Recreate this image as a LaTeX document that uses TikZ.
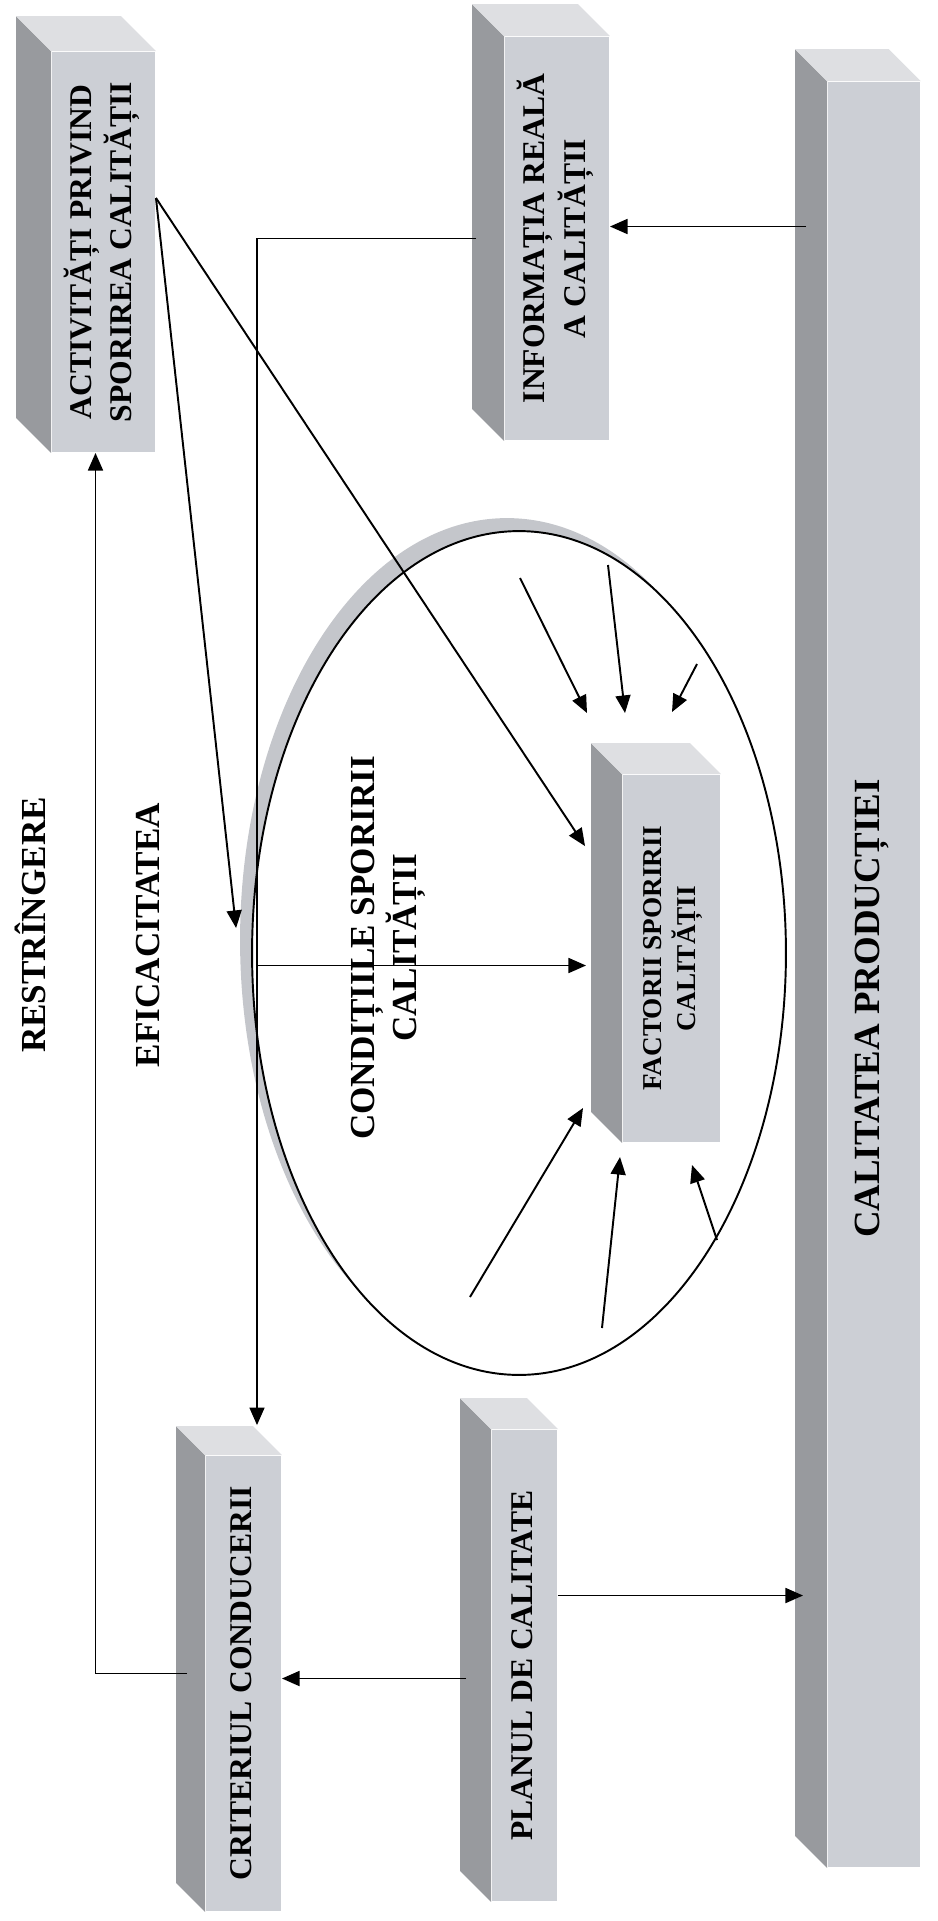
\documentclass[tikz,border=0pt]{standalone}
\usepackage{fontspec}
\setmainfont{Liberation Serif}
\usetikzlibrary{arrows.meta,shapes.geometric,shadows,calc}

\definecolor{boxfront}{RGB}{204,207,213}
\definecolor{boxside}{RGB}{152,154,158}
\definecolor{boxtop}{RGB}{222,223,226}
\definecolor{rimgray}{RGB}{196,198,203}

\newcommand{\boxfaces}[2]{%
  \fill[boxside] (#1.north west) -- (#1.south west) -- ++(-#2,-#2)
    -- ($(#1.north west)+(-#2,-#2)$) -- cycle;
  \fill[boxtop] (#1.north west) -- (#1.north east) -- ++(-#2,-#2)
    -- ($(#1.north west)+(-#2,-#2)$) -- cycle;}
\newcommand{\vtext}[1]{\rotatebox{90}{\begin{tabular}{@{}c@{}}#1\end{tabular}}}

\begin{document}
\begin{tikzpicture}[x=0.02cm,y=-0.02cm,>={Triangle[length=10pt,width=8.5pt]},
    line width=1.1pt]
  \tikzstyle{pillar}=[fill=boxfront,draw=none,inner sep=0pt]
  \tikzstyle{midtxt}=[font=\fontsize{18}{23}\selectfont\bfseries]
  \tikzstyle{bigtxt}=[font=\fontsize{20}{21}\selectfont\bfseries]

  \useasboundingbox (0,0) rectangle (937,1921);

  \node[ellipse,draw,fill=white,minimum width=10.68cm,minimum height=16.88cm,
    drop shadow={fill=rimgray,opacity=1,shadow xshift=-0.24cm,shadow yshift=0.26cm}]
    (cond) at (519,953) {};

  \node[pillar,midtxt,minimum width=2.06cm,minimum height=8cm] (act) at (103.5,252)
    {\vtext{ACTIVITĂȚI PRIVIND\\SPORIREA CALITĂȚII}};
  \node[pillar,midtxt,minimum width=2.08cm,minimum height=8.06cm] (inf) at (557,238.5)
    {\vtext{INFORMAȚIA REALĂ\\A CALITĂȚII}};
  \node[pillar,minimum width=1.84cm,minimum height=35.7cm] (cal) at (874,974.5) {};
  \node[pillar,font=\fontsize{15.5}{19}\selectfont\bfseries,minimum width=1.94cm,
    minimum height=7.34cm] (fac) at (671.5,958.5) {\vtext{FACTORII SPORIRII\\CALITĂȚII}};
  \node[pillar,midtxt,minimum width=1.5cm,minimum height=9.1cm] (crit) at (243.5,1683.5)
    {\vtext{CRITERIUL CONDUCERII}};
  \node[pillar,midtxt,minimum width=1.3cm,minimum height=9.42cm] (plan) at (524.5,1665.5)
    {\vtext{PLANUL DE CALITATE}};

  \boxfaces{act}{35}
  \boxfaces{inf}{32}
  \boxfaces{cal}{32}
  \boxfaces{fac}{31}
  \boxfaces{crit}{29}
  \boxfaces{plan}{31}

  \node[font=\fontsize{21}{25}\selectfont\bfseries] (caltxt) at ($(cal.center)+(-2,34)$)
    {\rotatebox{90}{CALITATEA PRODUCȚIEI}};
  \node[bigtxt] (restr) at (30,925) {\rotatebox{90}{RESTRÎNGERE}};
  \node[bigtxt] (efic) at (148,935) {\rotatebox{90}{EFICACITATEA}};
  \node[bigtxt] (condtxt) at (388,948) {\vtext{CONDIȚIILE SPORIRII\\CALITĂȚII}};

  % connectors
  \coordinate (actout) at ($(act.east)+(0,-54)$);
  \coordinate (infout) at ($(inf.west)+(-28,0)$);
  \coordinate (critin) at ($(crit.north)+(13.5,-30)$);

  \draw[->] ($(cal.west |- inf.east)+(-21,-12)$) -- ($(inf.east)+(0,-12)$);
  \draw[->] (infout) -| (critin);
  \draw[->] ($(critin |- fac.west)+(0,7)$) -- ($(fac.west)+(-36,7)$);
  \draw[->] (actout) -- ($(cond.west)+(-15,-25)$);
  \draw[->] (actout) -- ($(fac.north west)+(-37,72)$);
  \draw[->] ($(crit.west)+(-18,-10)$) -| ($(act.south)+(-8,0)$);
  \draw[->] ($(plan.west |- crit.east)+(-25,-5)$) -- ($(crit.east)+(0,-5)$);
  \draw[->] ($(plan.east)+(0,-70)$) -- ($(cal.west |- plan.east)+(-24,-70)$);

  % factors pointing to the box
  \foreach \i/\xa/\ya/\xb/\yb in {1/520/578/587/713, 2/608/565/625/713,
      3/697/664/672/712, 4/470/1297/583/1108, 5/602/1328/620/1157,
      6/717/1240/692/1165} {
    \coordinate (from\i) at (\xa,\ya);
    \coordinate (to\i) at (\xb,\yb);
    \draw[->] (from\i) -- (to\i);
  }
\end{tikzpicture}
\end{document}
